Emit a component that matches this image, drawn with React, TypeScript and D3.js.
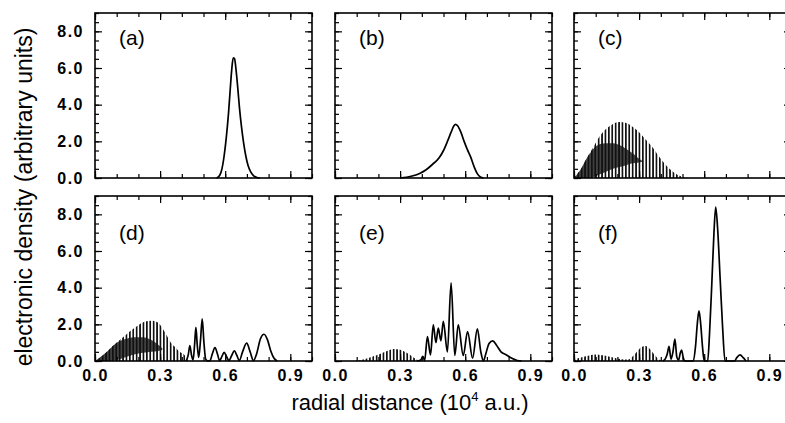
import React, { useEffect, useRef } from 'react';
import * as d3 from 'd3';

// tick values
const xTicks = [0, 0.1, 0.2, 0.3, 0.4, 0.5, 0.6, 0.7, 0.8, 0.9, 1.0];
const xMajorTicks = [0, 0.3, 0.6, 0.9];
const yTicks = [0, 0.5, 1, 1.5, 2, 2.5, 3, 3.5, 4, 4.5, 5, 5.5, 6, 6.5, 7, 7.5, 8, 8.5, 9];
const yMajorTicks = [0, 2, 4, 6, 8];
const panelNames = ['(a)', '(b)', '(c)', '(d)', '(e)', '(f)'];

// resolved curves: [radial distance, density]
const curveA = [[0.560, 0], [0.575, 0.15], [0.585, 0.5], [0.595, 1.2], [0.605, 2.2], [0.615, 3.5], [0.623, 4.8], [0.630, 5.9], [0.637, 6.55], [0.643, 6.5], [0.650, 5.9], [0.658, 4.9], [0.666, 3.8], [0.675, 2.8], [0.685, 1.9], [0.695, 1.2], [0.705, 0.7], [0.717, 0.35], [0.730, 0.13], [0.745, 0.03], [0.760, 0]];
const curveB = [[0.30, 0], [0.33, 0.04], [0.36, 0.12], [0.39, 0.25], [0.42, 0.45], [0.45, 0.75], [0.48, 1.1], [0.50, 1.5], [0.52, 2.05], [0.535, 2.5], [0.548, 2.85], [0.555, 2.93], [0.565, 2.85], [0.58, 2.5], [0.595, 2.0], [0.61, 1.55], [0.625, 1.15], [0.64, 0.65], [0.655, 0.25], [0.67, 0.05], [0.685, 0]];
const curveD = [[0.42, 0], [0.43, 0.35], [0.437, 0.84], [0.445, 0.3], [0.452, 0.05], [0.459, 0.9], [0.465, 1.83], [0.471, 0.9], [0.478, 0.2], [0.486, 1.1], [0.494, 2.3], [0.502, 1.0], [0.51, 0.1], [0.52, 0], [0.53, 0.02], [0.541, 0.4], [0.553, 0.73], [0.565, 0.35], [0.574, 0.02], [0.585, 0.25], [0.595, 0.47], [0.606, 0.25], [0.617, 0.02], [0.63, 0.3], [0.642, 0.55], [0.654, 0.3], [0.665, 0.02], [0.68, 0.5], [0.699, 0.97], [0.715, 0.5], [0.73, 0.02], [0.745, 0.4], [0.762, 1.2], [0.779, 1.46], [0.795, 1.15], [0.81, 0.55], [0.825, 0.15], [0.84, 0]];
const curveE = [[0.38, 0], [0.395, 0.05], [0.405, 0.25], [0.413, 0.02], [0.426, 1.33], [0.44, 0.33], [0.453, 1.97], [0.465, 1.0], [0.476, 1.79], [0.488, 1.1], [0.499, 2.16], [0.518, 0.5], [0.535, 4.26], [0.552, 0.3], [0.568, 1.97], [0.591, 0.3], [0.611, 1.6], [0.634, 0.15], [0.656, 1.75], [0.672, 0.5], [0.684, 0], [0.695, 0.4], [0.71, 0.95], [0.727, 1.1], [0.745, 0.85], [0.765, 0.5], [0.79, 0.33], [0.815, 0.15], [0.84, 0.03], [0.86, 0]];
const curveF = [[0.41, 0], [0.42, 0.1], [0.43, 0.4], [0.438, 0.8], [0.447, 0.1], [0.456, 0.5], [0.465, 1.19], [0.474, 0.2], [0.482, 0.05], [0.49, 0.45], [0.496, 0.6], [0.503, 0.2], [0.51, 0], [0.55, 0], [0.56, 0.8], [0.568, 2.0], [0.576, 2.74], [0.584, 2.0], [0.592, 0.8], [0.60, 0], [0.616, 0], [0.625, 1.6], [0.635, 4.2], [0.645, 7.0], [0.653, 8.4], [0.662, 7.2], [0.673, 4.6], [0.685, 1.8], [0.696, 0], [0.74, 0], [0.75, 0.18], [0.765, 0.33], [0.78, 0.18], [0.792, 0]];

// envelopes of the fast oscillations (drawn hatched)
const envC = [[0, 0], [0.01, 0.15], [0.03, 0.45], [0.06, 1.1], [0.09, 1.7], [0.12, 2.3], [0.15, 2.7], [0.18, 2.95], [0.21, 3.05], [0.24, 3.0], [0.27, 2.8], [0.30, 2.5], [0.33, 2.1], [0.36, 1.7], [0.39, 1.2], [0.42, 0.75], [0.45, 0.4], [0.48, 0.15], [0.51, 0.03], [0.53, 0]];
const envD = [[0, 0], [0.02, 0.15], [0.05, 0.45], [0.08, 0.8], [0.11, 1.1], [0.14, 1.4], [0.17, 1.7], [0.2, 1.95], [0.23, 2.15], [0.26, 2.2], [0.29, 2.1], [0.31, 1.8], [0.33, 1.4], [0.35, 1.0], [0.37, 0.75], [0.39, 0.5], [0.41, 0.35], [0.43, 0]];
const envE = [[0.09, 0], [0.12, 0.05], [0.15, 0.15], [0.18, 0.27], [0.21, 0.4], [0.24, 0.55], [0.27, 0.66], [0.30, 0.62], [0.33, 0.45], [0.35, 0.3], [0.37, 0.12], [0.39, 0]];
const envF = [[0, 0], [0.01, 0.1], [0.04, 0.22], [0.07, 0.3], [0.1, 0.35], [0.13, 0.32], [0.16, 0.25], [0.19, 0.17], [0.22, 0.1], [0.25, 0.08], [0.27, 0.25], [0.29, 0.5], [0.31, 0.75], [0.33, 0.82], [0.35, 0.65], [0.37, 0.35], [0.39, 0.1], [0.41, 0]];

// dark cores where the oscillations merge: [x, low, high]
const coreC = [[0, 0, 0], [0.03, 0, 0.45], [0.06, 0, 1.1], [0.09, 0.05, 1.6], [0.12, 0.2, 1.85], [0.15, 0.35, 1.9], [0.18, 0.5, 1.9], [0.21, 0.6, 1.8], [0.24, 0.7, 1.6], [0.27, 0.8, 1.35], [0.30, 0.85, 1.05], [0.32, 0.9, 0.9]];
const coreD = [[0, 0, 0], [0.05, 0, 0.45], [0.1, 0.05, 1.0], [0.14, 0.2, 1.2], [0.18, 0.35, 1.3], [0.22, 0.45, 1.3], [0.26, 0.5, 1.15], [0.29, 0.55, 0.9], [0.31, 0.6, 0.7]];

const panelLeft = [95, 335, 574];
const panelTop = [13, 196];
const W = 217;
const H = 165;
const FONT = '"Liberation Sans", Arial, Helvetica, sans-serif';

const panels = [
	{ name: panelNames[0], curve: curveA, env: null, core: null },
	{ name: panelNames[1], curve: curveB, env: null, core: null },
	{ name: panelNames[2], curve: null, env: envC, core: coreC },
	{ name: panelNames[3], curve: curveD, env: envD, core: coreD },
	{ name: panelNames[4], curve: curveE, env: envE, core: null },
	{ name: panelNames[5], curve: curveF, env: envF, core: null }
];

export default function App() {
	const ref = useRef<SVGSVGElement>(null);

	useEffect(() => {
		const svg = d3.select(ref.current);
		svg.selectAll('*').remove();

		const defs = svg.append('defs');
		const pat = defs.append('pattern')
			.attr('id', 'stripes')
			.attr('patternUnits', 'userSpaceOnUse')
			.attr('width', 3.4)
			.attr('height', 10);
		pat.append('rect').attr('x', 0).attr('y', 0).attr('width', 1.7).attr('height', 10).attr('fill', '#111');

		var x = d3.scaleLinear().domain([0, 1]).range([0, W]);
		var y = d3.scaleLinear().domain([0, 9]).range([H, 0]);

		const line = d3.line<number[]>()
			.x(d => x(d[0]))
			.y(d => y(d[1]))
			.curve(d3.curveMonotoneX);
		const envArea = d3.area<number[]>()
			.x(d => x(d[0]))
			.y0(y(0))
			.y1(d => y(d[1]))
			.curve(d3.curveMonotoneX);
		const coreArea = d3.area<number[]>()
			.x(d => x(d[0]))
			.y0(d => y(d[1]))
			.y1(d => y(d[2]))
			.curve(d3.curveMonotoneX);

		panels.forEach((p, i) => {
			const col = i % 3;
			const row = Math.floor(i / 3);
			const g = svg.append('g')
				.attr('transform', 'translate(' + panelLeft[col] + ',' + panelTop[row] + ')');

			if (p.env) {
				g.append('path').datum(p.env).attr('d', envArea).attr('fill', 'url(#stripes)');
			}
			if (p.core) {
				g.append('path').datum(p.core).attr('d', coreArea).attr('fill', '#111').attr('opacity', 0.8);
			}
			if (p.curve) {
				g.append('path').datum(p.curve)
					.attr('d', line)
					.attr('fill', 'none')
					.attr('stroke', '#000')
					.attr('stroke-width', 1.7)
					.attr('stroke-linejoin', 'round');
			}

			// inward ticks on all four sides
			const fmt = d3.format('.1f');
			const bottomLabels = row === 1;
			const leftLabels = col === 0;

			const addAxis = (axis: any, tr: string, labels: boolean) => {
				const a = g.append('g').attr('transform', tr).call(axis);
				a.select('.domain').remove();
				a.selectAll('line').attr('stroke', '#000').attr('stroke-width', 1.2);
				if (!labels) a.selectAll('text').remove();
				else a.selectAll('text')
					.attr('font-family', FONT)
					.attr('font-size', 16)
					.attr('font-weight', 'bold')
					.attr('letter-spacing', 1.5)
					.attr('fill', '#000');
			};

			addAxis(d3.axisBottom(x).tickValues(xTicks).tickSize(-4).tickFormat(() => ''), 'translate(0,' + H + ')', false);
			addAxis(d3.axisBottom(x).tickValues(xMajorTicks).tickSize(-7).tickPadding(9).tickFormat(d => fmt(+d)), 'translate(0,' + H + ')', bottomLabels);
			addAxis(d3.axisTop(x).tickValues(xTicks).tickSize(-4).tickFormat(() => ''), 'translate(0,0)', false);
			addAxis(d3.axisTop(x).tickValues(xMajorTicks).tickSize(-7).tickFormat(() => ''), 'translate(0,0)', false);
			addAxis(d3.axisLeft(y).tickValues(yTicks).tickSize(-4).tickFormat(() => ''), 'translate(0,0)', false);
			addAxis(d3.axisLeft(y).tickValues(yMajorTicks).tickSize(-7).tickPadding(11).tickFormat(d => fmt(+d)), 'translate(0,0)', leftLabels);
			addAxis(d3.axisRight(y).tickValues(yTicks).tickSize(-4).tickFormat(() => ''), 'translate(' + W + ',0)', false);
			addAxis(d3.axisRight(y).tickValues(yMajorTicks).tickSize(-7).tickFormat(() => ''), 'translate(' + W + ',0)', false);

			g.append('rect')
				.attr('width', W)
				.attr('height', H)
				.attr('fill', 'none')
				.attr('stroke', '#000')
				.attr('stroke-width', 1.6);

			g.append('text')
				.attr('x', 24)
				.attr('y', row === 0 ? 32 : 44)
				.attr('font-family', FONT)
				.attr('font-size', 21)
				.attr('fill', '#000')
				.text(p.name);
		});

		svg.append('text')
			.attr('transform', 'translate(32,197) rotate(-90)')
			.attr('text-anchor', 'middle')
			.attr('font-family', FONT)
			.attr('font-size', 23)
			.attr('fill', '#000')
			.text('electronic density (arbitrary units)');

		const xt = svg.append('text')
			.attr('x', 410)
			.attr('y', 410)
			.attr('text-anchor', 'middle')
			.attr('font-family', FONT)
			.attr('font-size', 22)
			.attr('fill', '#000');
		xt.append('tspan').text('radial distance (10');
		xt.append('tspan').attr('font-size', 13).attr('dy', -9).text('4');
		xt.append('tspan').attr('dy', 9).text(' a.u.)');
	}, []);

	return (
		<svg ref={ref} width={785} height={423}
			style={{ position: 'absolute', left: 0, top: 0, background: '#fff' }} />
	);
}
